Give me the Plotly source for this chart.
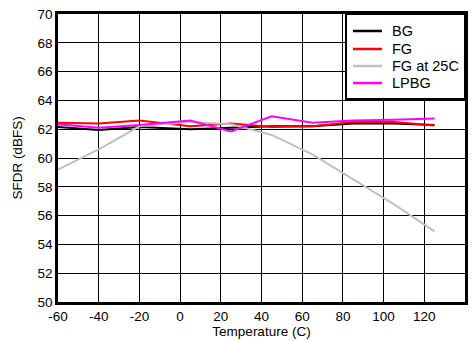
import plotly.graph_objects as go

temps = [-60, -40, -20, 5, 25, 45, 65, 85, 105, 125]
bg = [62.15, 61.95, 62.15, 62.0, 62.1, 62.2, 62.2, 62.4, 62.4, 62.3]
fg = [62.45, 62.4, 62.6, 62.2, 62.4, 62.15, 62.2, 62.5, 62.5, 62.25]
fg25 = [59.2, 60.6, 62.2, 62.5, 62.35, 61.6, 60.25, 58.5, 56.8, 54.9]
lpbg = [62.35, 62.1, 62.3, 62.6, 61.85, 62.9, 62.45, 62.6, 62.65, 62.75]

x_ticks = [-60, -40, -20, 0, 20, 40, 60, 80, 100, 120, 140]
x_ticklabels = ["-60", "-40", "-20", "0", "20", "40", "60", "80", "100", "120", "140"]
y_ticks = [50, 52, 54, 56, 58, 60, 62, 64, 66, 68, 70]
y_ticklabels = [str(v) for v in y_ticks]

series_names = ["BG", "FG", "FG at 25C", "LPBG"]
series_values = [bg, fg, fg25, lpbg]
series_colors = ["#000000", "#FF0000", "#C0C0C0", "#FF00FF"]

FONT = "Liberation Sans, Arial, sans-serif"

fig = go.Figure()
for name, vals, col in zip(series_names, series_values, series_colors):
    fig.add_trace(go.Scatter(x=temps, y=vals, mode="lines", name=name,
                             line=dict(color=col, width=2), showlegend=False))

axis_common = dict(
    showgrid=True, gridcolor="#000000", gridwidth=1,
    showline=True, linecolor="#000000", linewidth=2.5, mirror=True,
    zeroline=False, ticks="", automargin=False,
    tickfont=dict(family=FONT, size=13.5, color="#000"),
)

# Manual legend box (paper coordinates of the plot area)
leg_x0, leg_x1, leg_y0, leg_y1 = 0.7076, 1.0, 0.7049, 1.0
fig.add_shape(type="rect", xref="paper", yref="paper",
              x0=leg_x0, x1=leg_x1, y0=leg_y0, y1=leg_y1,
              fillcolor="white", line=dict(color="#000", width=2), layer="above")
row_y = [0.941, 0.8785, 0.8194, 0.7604]
for name, col, yy in zip(series_names, series_colors, row_y):
    fig.add_shape(type="line", xref="paper", yref="paper",
                  x0=0.7248, x1=0.7961, y0=yy, y1=yy,
                  line=dict(color=col, width=2.5), layer="above")
    fig.add_annotation(xref="paper", yref="paper", x=0.8157, y=yy,
                       xanchor="left", yanchor="middle", text=name, showarrow=False,
                       font=dict(family=FONT, size=14.5, color="#000"))

fig.update_layout(
    width=476, height=341,
    margin=dict(l=58, r=11, t=14, b=39),
    paper_bgcolor="white", plot_bgcolor="white",
    font=dict(family=FONT, color="#000"),
    xaxis=dict(range=[-60, 140], tickmode="array", tickvals=x_ticks, ticktext=x_ticklabels,
               title=dict(text="Temperature (C)", font=dict(family=FONT, size=13.5), standoff=0),
               **axis_common),
    yaxis=dict(range=[50, 70], tickmode="array", tickvals=y_ticks, ticktext=y_ticklabels,
               title=dict(text="SFDR (dBFS)", font=dict(family=FONT, size=13.5), standoff=12),
               **axis_common),
    showlegend=False,
)

fig.write_html("out.html", config={"displayModeBar": False},
               post_script="document.body.style.margin='0';document.body.style.padding='0';")
